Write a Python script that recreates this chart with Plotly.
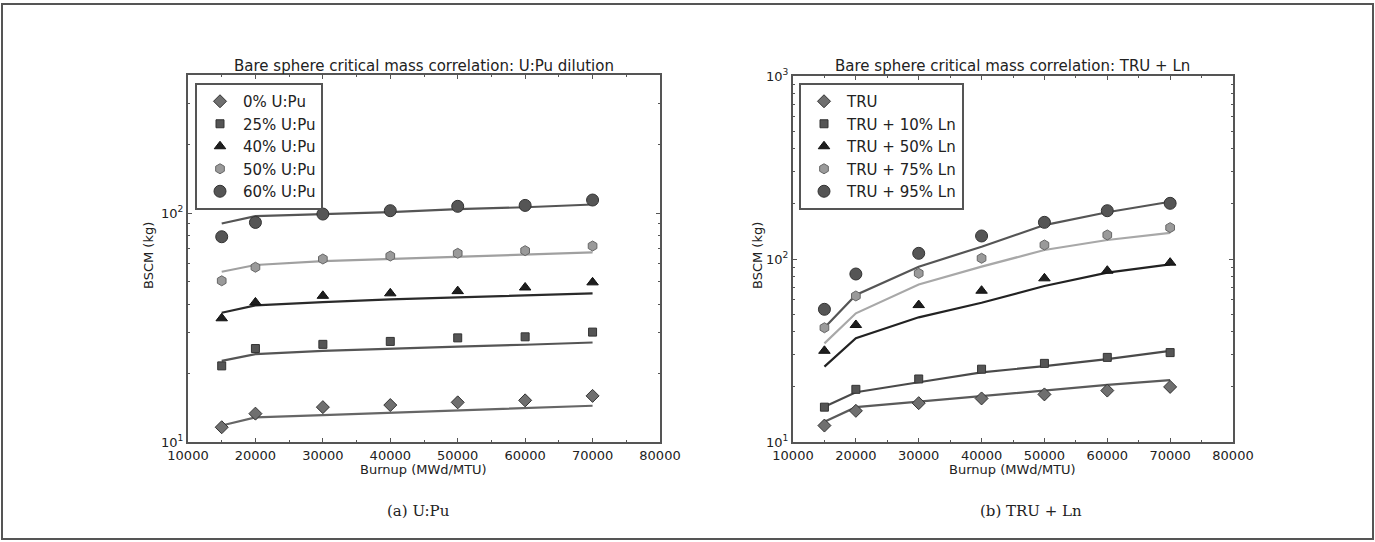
import plotly.graph_objects as go

burnup = [15000, 20000, 30000, 40000, 50000, 60000, 70000]

# Left panel: U:Pu dilution (markers = data, lines = correlation)
upu_labels = ["0% U:Pu", "25% U:Pu", "40% U:Pu", "50% U:Pu", "60% U:Pu"]
upu_pts_0 = [11.6, 13.3, 14.2, 14.5, 14.9, 15.2, 15.9]
upu_pts_25 = [21.5, 25.6, 26.7, 27.5, 28.5, 28.8, 30.2]
upu_pts_40 = [34.7, 40.7, 43.5, 44.6, 45.6, 47.3, 49.8]
upu_pts_50 = [50.6, 58.0, 63.0, 64.9, 66.7, 68.5, 71.8]
upu_pts_60 = [78.8, 91.0, 99.0, 102.4, 107.0, 108.0, 114.0]
upu_fit_0 = [11.8, 12.8, 13.1, 13.4, 13.7, 14.0, 14.4]
upu_fit_25 = [22.6, 24.2, 25.0, 25.6, 26.1, 26.6, 27.2]
upu_fit_40 = [36.7, 39.5, 40.8, 42.0, 42.8, 43.7, 44.6]
upu_fit_50 = [55.4, 59.3, 61.7, 63.0, 64.5, 66.0, 67.3]
upu_fit_60 = [90.0, 97.0, 99.0, 101.0, 104.0, 106.0, 109.0]

# Right panel: TRU + Ln
ln_labels = ["TRU", "TRU + 10% Ln", "TRU + 50% Ln", "TRU + 75% Ln", "TRU + 95% Ln"]
ln_pts_0 = [12.3, 14.8, 16.3, 17.3, 18.2, 19.1, 20.0]
ln_pts_10 = [15.5, 19.4, 22.1, 25.0, 26.9, 29.0, 30.8]
ln_pts_50 = [31.5, 43.6, 56.0, 67.1, 78.4, 86.3, 95.5]
ln_pts_75 = [42.1, 62.8, 83.5, 100.9, 119.3, 135.3, 148.4]
ln_pts_95 = [53.1, 82.8, 107.4, 133.6, 158.6, 183.6, 201.5]
ln_fit_0 = [12.9, 15.5, 16.6, 17.8, 19.2, 20.5, 21.8]
ln_fit_10 = [15.6, 18.7, 21.2, 24.0, 26.0, 28.4, 31.5]
ln_fit_50 = [25.8, 36.9, 48.0, 57.7, 71.2, 84.2, 93.5]
ln_fit_75 = [34.6, 50.5, 72.5, 90.8, 112.0, 127.0, 139.0]
ln_fit_95 = [42.1, 63.6, 90.8, 116.7, 153.3, 180.0, 205.6]

symbols = ["diamond", "square", "triangle-up", "hexagon", "circle"]
msizes = [10, 8, 10, 10, 12]
mfill = ["#6f6f6f", "#555555", "#1e1e1e", "#9a9a9a", "#555555"]
medge = ["#333333", "#333333", "#111111", "#666666", "#333333"]
left_line_colors = ["#666666", "#555555", "#2a2a2a", "#a0a0a0", "#555555"]
right_line_colors = ["#5a5a5a", "#4a4a4a", "#222222", "#a8a8a8", "#555555"]

fig = go.Figure()

left_pts = [upu_pts_0, upu_pts_25, upu_pts_40, upu_pts_50, upu_pts_60]
left_fit = [upu_fit_0, upu_fit_25, upu_fit_40, upu_fit_50, upu_fit_60]
right_pts = [ln_pts_0, ln_pts_10, ln_pts_50, ln_pts_75, ln_pts_95]
right_fit = [ln_fit_0, ln_fit_10, ln_fit_50, ln_fit_75, ln_fit_95]

for i in range(5):
    fig.add_trace(go.Scatter(x=burnup, y=left_fit[i], mode="lines",
                             line=dict(color=left_line_colors[i], width=2.2),
                             showlegend=False, xaxis="x", yaxis="y"))
for i in range(5):
    fig.add_trace(go.Scatter(x=burnup, y=left_pts[i], mode="markers", name=upu_labels[i],
                             marker=dict(symbol=symbols[i], size=msizes[i], color=mfill[i],
                                         line=dict(color=medge[i], width=1)),
                             legend="legend", xaxis="x", yaxis="y"))
for i in range(5):
    fig.add_trace(go.Scatter(x=burnup, y=right_fit[i], mode="lines",
                             line=dict(color=right_line_colors[i], width=2.2),
                             showlegend=False, xaxis="x2", yaxis="y2"))
for i in range(5):
    fig.add_trace(go.Scatter(x=burnup, y=right_pts[i], mode="markers", name=ln_labels[i],
                             marker=dict(symbol=symbols[i], size=msizes[i], color=mfill[i],
                                         line=dict(color=medge[i], width=1)),
                             legend="legend2", xaxis="x2", yaxis="y2"))

W, H = 1375, 542
def fx(px):
    return px / W
def fy(py):
    return 1 - py / H

tickfont = dict(family="DejaVu Sans", size=13, color="#222")
axis_common = dict(showline=True, linecolor="#555", linewidth=2, mirror="allticks",
                   ticks="inside", ticklen=4, tickcolor="#555", showgrid=False,
                   zeroline=False, tickfont=tickfont, automargin=False)
xticks = [10000, 20000, 30000, 40000, 50000, 60000, 70000, 80000]

xaxis_common = dict(axis_common, range=[10000, 80000], tickvals=xticks,
                    ticktext=[str(v) for v in xticks],
                    minor=dict(ticks="inside", ticklen=2, tickcolor="#555", dtick=5000))
yminor = dict(ticks="inside", ticklen=2, tickcolor="#555", dtick="D1")

lbl_font = dict(family="DejaVu Sans", size=13, color="#222")
ttl_font = dict(family="DejaVu Sans", size=15, color="#222")
cap_font = dict(family="DejaVu Serif", size=15, color="#222")
leg_font = dict(family="DejaVu Sans", size=15, color="#222")

def ann(text, x, y, font, angle=0):
    return dict(text=text, x=fx(x), y=fy(y), xref="paper", yref="paper", showarrow=False,
                xanchor="center", yanchor="middle", font=font, textangle=angle)

fig.update_layout(
    width=W, height=H,
    margin=dict(l=0, r=0, t=0, b=0, autoexpand=False),
    paper_bgcolor="white", plot_bgcolor="white",
    xaxis=dict(xaxis_common, domain=[fx(188), fx(660)], anchor="y"),
    yaxis=dict(axis_common, type="log", range=[1, 2.603], domain=[fy(442), fy(75)], anchor="x",
               tickvals=[10, 100], ticktext=["10<sup>1</sup>", "10<sup>2</sup>"], minor=yminor),
    xaxis2=dict(xaxis_common, domain=[fx(793), fx(1233)], anchor="y2"),
    yaxis2=dict(axis_common, type="log", range=[1, 3], domain=[fy(442), fy(76)], anchor="x2",
                tickvals=[10, 100, 1000], ticktext=["10<sup>1</sup>", "10<sup>2</sup>", "10<sup>3</sup>"],
                minor=yminor),
    legend=dict(x=fx(195), y=fy(83), xanchor="left", yanchor="top", bgcolor="white",
                bordercolor="#555", borderwidth=2, font=leg_font,
                tracegroupgap=0, itemsizing="trace", itemwidth=36),
    legend2=dict(x=fx(799), y=fy(83), xanchor="left", yanchor="top", bgcolor="white",
                 bordercolor="#555", borderwidth=2, font=leg_font,
                 tracegroupgap=0, itemsizing="trace", itemwidth=36),
    annotations=[
        ann("Bare sphere critical mass correlation: U:Pu dilution", 424, 66, ttl_font),
        ann("Bare sphere critical mass correlation: TRU + Ln", 1013, 66, ttl_font),
        ann("Burnup (MWd/MTU)", 424, 469, lbl_font),
        ann("Burnup (MWd/MTU)", 1013, 469, lbl_font),
        ann("BSCM (kg)", 148, 256, lbl_font, -90),
        ann("BSCM (kg)", 757, 256, lbl_font, -90),
        ann("(a) U:Pu", 418, 511, cap_font),
        ann("(b) TRU + Ln", 1031, 511, cap_font),
    ],
    shapes=[dict(type="rect", xref="paper", yref="paper", x0=fx(2), x1=fx(1373), y0=fy(539), y1=fy(4),
                 line=dict(color="#555", width=2))],
)

fig.write_html("out.html")
